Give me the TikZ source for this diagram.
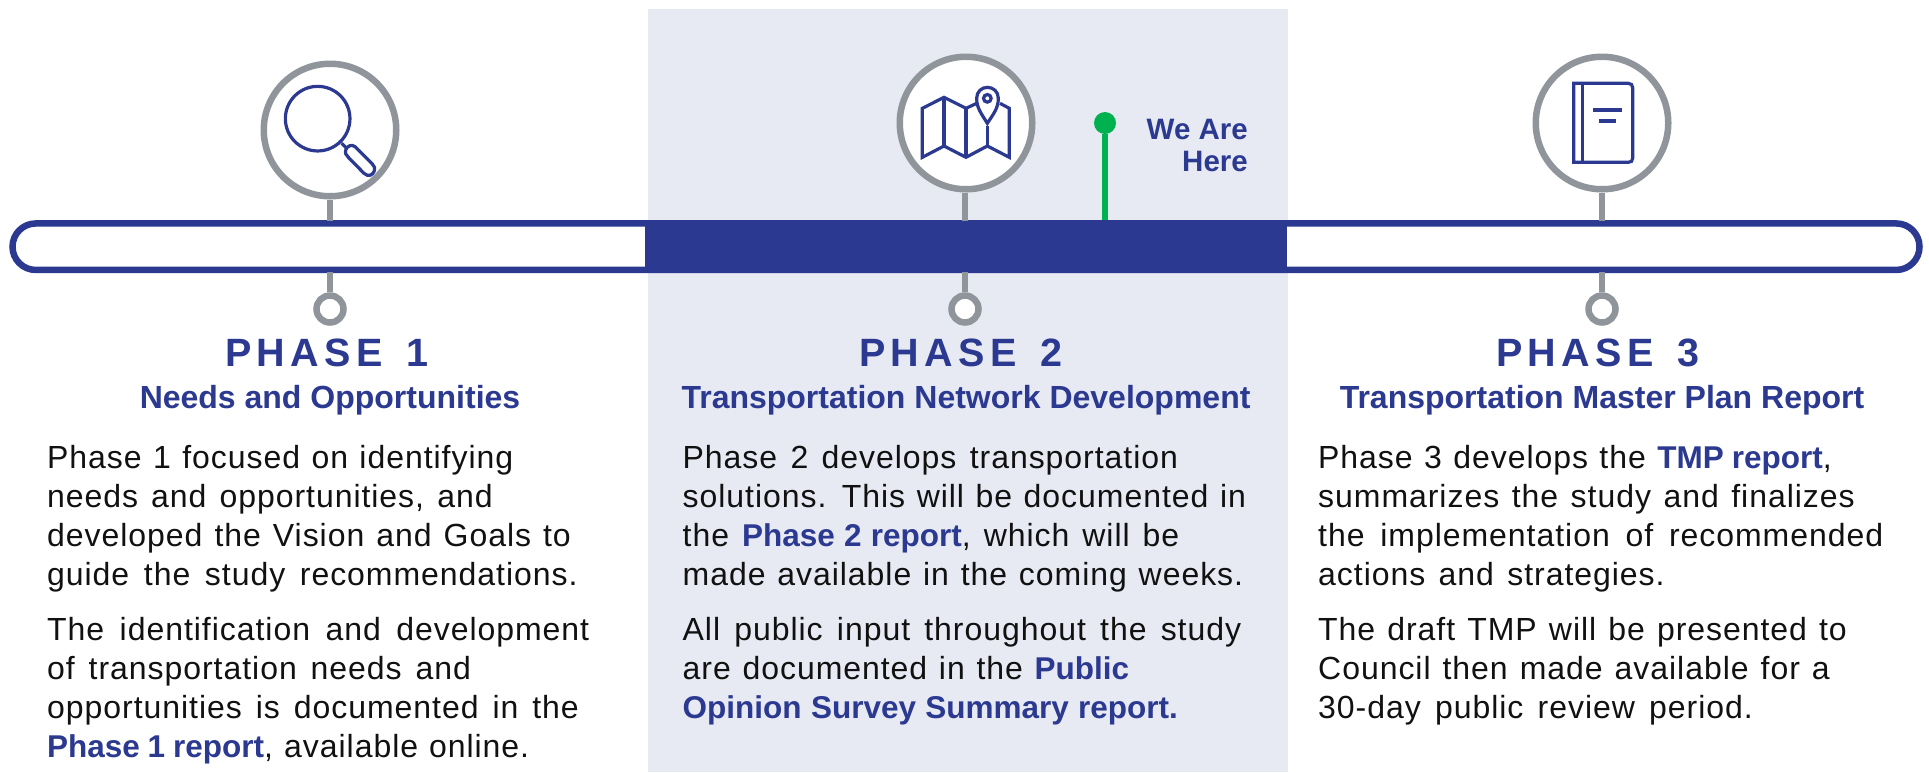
\documentclass[tikz,border=0pt]{standalone}
\usepackage{fontspec}
\setmainfont{Liberation Sans}[LetterSpace=3,WordSpace=1.25]
\newfontfamily\headfont{Liberation Sans}[LetterSpace=13.5]
\newfontfamily\plainfont{Liberation Sans}
\usetikzlibrary{shapes.misc}
\definecolor{navy}{HTML}{2B3990}
\definecolor{band}{HTML}{E7EAF3}
\definecolor{ringgray}{HTML}{8F959B}
\definecolor{pingreen}{HTML}{00B14F}
\definecolor{ink}{HTML}{111111}
\tikzset{
  x=1pt,y=-1pt,
  bigring/.style={circle,draw=ringgray,fill=white,line width=6.5pt,minimum size=132.5pt,inner sep=0pt},
  smallring/.style={circle,draw=ringgray,fill=white,line width=6.5pt,minimum size=27pt,inner sep=0pt},
  stem/.style={draw=ringgray,line width=6pt},
  icon/.style={draw=navy,line width=3.2pt,line join=miter},
  body/.style={anchor=base west,inner sep=0pt,text=ink,font=\fontsize{32}{38}\selectfont},
  phase/.style={anchor=base,inner sep=0pt,text=navy,font=\fontsize{39.5}{46}\selectfont\headfont\bfseries},
  sub/.style={anchor=base,inner sep=0pt,text=navy,font=\fontsize{32}{38}\selectfont\plainfont\bfseries},
  here/.style={anchor=base east,inner sep=0pt,text=navy,font=\fontsize{29.5}{34}\selectfont\plainfont\bfseries},
}
\newcommand{\lk}[1]{\textcolor{navy}{\fontsize{31.5}{38}\selectfont\plainfont\bfseries #1}}
\newcommand{\fitline}[2]{\makebox[#1pt][s]{#2}}
\begin{document}
\begin{tikzpicture}
\useasboundingbox (0,0) rectangle (1929,772);
\fill[band] (648,9) rectangle (1288,772);
\node[rounded rectangle,draw=navy,fill=white,line width=6.5pt,minimum width=1907pt,minimum height=46.5pt,inner sep=0pt] (bar) at (966,246.7) {};
\fill[navy] (645,220) rectangle (1287,273);
% rings
\node[bigring] (c1) at (330,130) {};
\node[bigring] (c2) at (966,123) {};
\node[bigring] (c3) at (1602,123) {};
\node[smallring] (s1) at (330,309) {};
\node[smallring] (s2) at (965,309) {};
\node[smallring] (s3) at (1602,309) {};
\coordinate (t1) at (330,221); \coordinate (b1) at (330,272);
\coordinate (t2) at (965,221); \coordinate (b2) at (965,272);
\coordinate (t3) at (1602,221); \coordinate (b3) at (1602,272);
\draw[stem] (c1.south) -- (t1); \draw[stem] (b1) -- (s1.north);
\draw[stem] (c2.south -| t2) -- (t2); \draw[stem] (b2) -- (s2.north);
\draw[stem] (c3.south) -- (t3); \draw[stem] (b3) -- (s3.north);
% we are here
\node[circle,fill=pingreen,minimum size=22pt,inner sep=0pt] (pin) at (1105,123) {};
\coordinate (pinfoot) at (1105,220);
\draw[pingreen,line width=6.5pt] (pin) -- (pinfoot);
\node[here] (we1) at (1248,139) {We Are};
\node[here] (we2) at (1248,171) {Here};
% magnifier
\begin{scope}[xshift=240pt,yshift=-40pt,x=0.3333pt,y=-0.3333pt]
\draw[icon] (233,236) circle[radius=32.3pt];
\draw[icon] (305,310) -- (320,325);
\draw[icon] (345,320) .. controls (335,312) and (322,318) .. (318,328) .. controls (314,340) and (318,345) .. (325,352) -- (372,400) .. controls (385,412) and (398,405) .. (402,395) .. controls (406,385) and (404,378) .. (397,372) -- cycle;
\end{scope}
% map
\begin{scope}[xshift=880pt,yshift=-40pt,x=0.3333pt,y=-0.3333pt]
\draw[icon] (290,190) -- (258,205) -- (192,172) -- (127,205) -- (127,352) -- (192,318) -- (258,352) -- (322,318) -- (388,352) -- (388,205) -- (360,190);
\draw[icon] (192,172) -- (192,318) (258,205) -- (258,352) (322,258) -- (322,318);
\draw[icon] (322,250) .. controls (305,222) and (290,205) .. (290,175) .. controls (290,155) and (305,142) .. (322,142) .. controls (340,142) and (355,155) .. (355,175) .. controls (355,205) and (340,222) .. (322,250) -- cycle;
\draw[icon] (322,175) circle[radius=3.8pt];
\end{scope}
% book
\begin{scope}[xshift=1500pt,yshift=-40pt,x=0.3333pt,y=-0.3333pt]
\draw[icon] (221,130) -- (385,130) .. controls (393,130) and (398,135) .. (398,143) -- (398,355) .. controls (398,363) and (393,367) .. (385,367) -- (221,367) -- cycle;
\draw[icon] (248,130) -- (248,367);
\draw[icon] (278,210) -- (367,210) (297,243) -- (349,243);
\end{scope}
% headings
\node[phase] (p1) at (327,366) {PHASE\hspace{24pt}1};
\node[phase] (p2) at (961,366) {PHASE\hspace{24pt}2};
\node[phase] (p3) at (1598,366) {PHASE\hspace{24pt}3};
\node[sub] (h1) at (330,408) {Needs and Opportunities};
\node[sub] (h2) at (966,408) {Transportation Network Development};
\node[sub] (h3) at (1602,408) {Transportation Master Plan Report};
% col 1
\node[body] (a1) at (47,468) {\fitline{466}{Phase 1 focused on identifying}};
\node[body] (a2) at (47,507) {\fitline{445.5}{needs and opportunities, and}};
\node[body] (a3) at (47,546.5) {\fitline{523.7}{developed the Vision and Goals to}};
\node[body] (a4) at (47,585.7) {\fitline{530.4}{guide the study recommendations.}};
\node[body] (a5) at (47,640) {\fitline{542}{The identification and development}};
\node[body] (a6) at (47,679) {\fitline{423.7}{of transportation needs and}};
\node[body] (a7) at (47,718) {\fitline{531.6}{opportunities is documented in the}};
\node[body] (a8) at (47,757) {\fitline{482}{\lk{Phase 1 report}, available online.}};
% col 2
\node[body] (b1n) at (682.5,468) {\fitline{495.3}{Phase 2 develops transportation}};
\node[body] (b2n) at (682.5,507) {\fitline{563.3}{solutions. This will be documented in}};
\node[body] (b3n) at (682.5,546.5) {\fitline{496.5}{the \lk{Phase 2 report}, which will be}};
\node[body] (b4n) at (682.5,585.7) {\fitline{560.5}{made available in the coming weeks.}};
\node[body] (b5n) at (682.5,640) {\fitline{558.5}{All public input throughout the study}};
\node[body] (b6n) at (682.5,679) {\fitline{446.5}{are documented in the \lk{Public}}};
\node[body] (b7n) at (682.5,718) {\fitline{495.3}{\lk{Opinion Survey Summary report.}}};
% col 3
\node[body] (c1n) at (1318,468) {\fitline{513.6}{Phase 3 develops the \lk{TMP report},}};
\node[body] (c2n) at (1318,507) {\fitline{536.5}{summarizes the study and finalizes}};
\node[body] (c3n) at (1318,546.5) {\fitline{565}{the implementation of recommended}};
\node[body] (c4n) at (1318,585.7) {\fitline{346.4}{actions and strategies.}};
\node[body] (c5n) at (1318,640) {\fitline{528.6}{The draft TMP will be presented to}};
\node[body] (c6n) at (1318,679) {\fitline{511.6}{Council then made available for a}};
\node[body] (c7n) at (1318,718) {\fitline{434.6}{30-day public review period.}};
\end{tikzpicture}
\end{document}
